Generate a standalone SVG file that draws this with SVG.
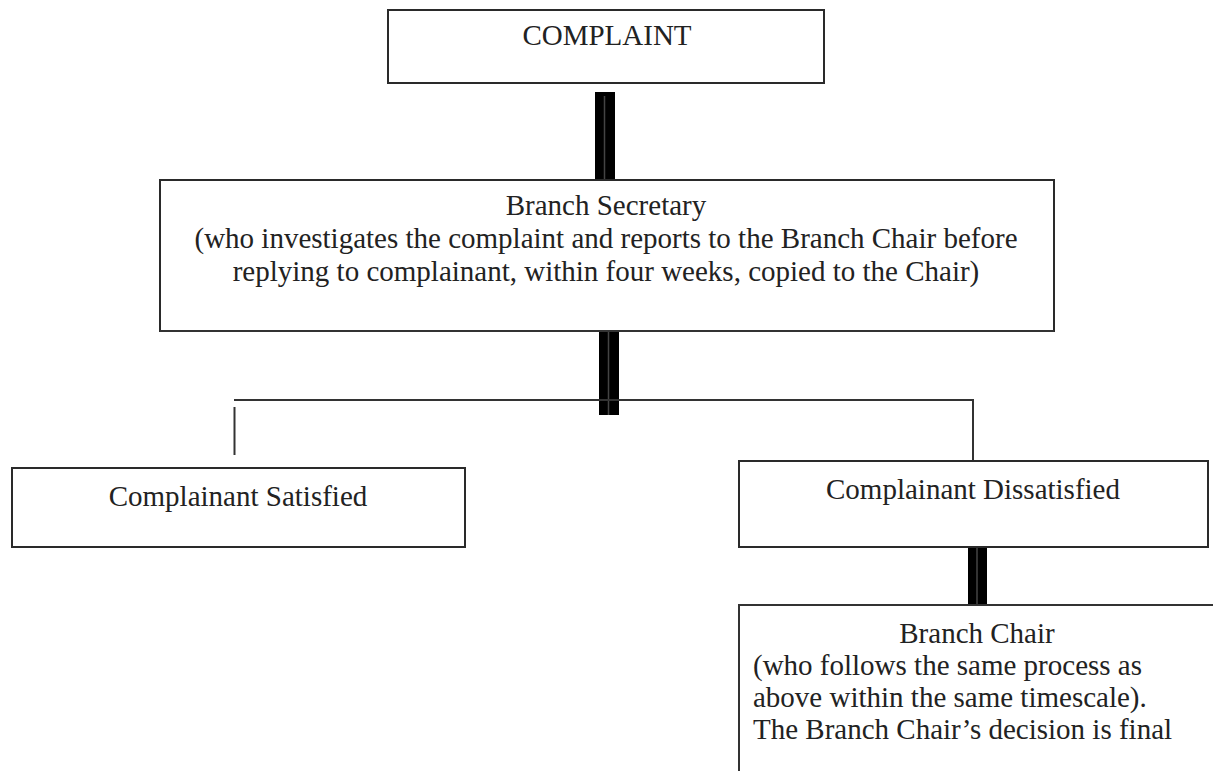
<svg xmlns="http://www.w3.org/2000/svg" width="1213" height="771" viewBox="0 0 1213 771">
<style>
.box{fill:#fff;stroke:#2a2a2a;stroke-width:2}
.ln{stroke:#333;stroke-width:2;fill:none}
.bar{fill:#000}
.core{stroke:#444;stroke-width:1.5}
text{font-family:"Liberation Serif","Times New Roman",serif;font-size:29px;fill:#222}
.c{text-anchor:middle}
</style>
<rect width="1213" height="771" fill="#fff"/>
<g id="connectors">
<rect class="bar" x="595" y="92" width="20" height="88"/>
<line class="core" x1="604.5" y1="96" x2="604.5" y2="180"/>
<rect class="bar" x="599" y="330" width="20" height="85"/>
<line class="core" x1="608.5" y1="332" x2="608.5" y2="415"/>
<line class="ln" x1="234" y1="400" x2="974" y2="400"/>
<line class="ln" x1="234.5" y1="407" x2="234.5" y2="455"/>
<line class="ln" x1="973" y1="400" x2="973" y2="461"/>
<rect class="bar" x="968" y="542" width="19" height="64"/>
<line class="core" x1="977" y1="545" x2="977" y2="606"/>
</g>
<g id="complaint">
<rect class="box" x="388" y="10" width="436" height="73"/>
<text class="c" x="607" y="45">COMPLAINT</text>
</g>
<g id="secretary">
<rect class="box" x="160" y="180" width="894" height="151" fill="none" style="fill:none"/>
<text class="c" x="606" y="215">Branch Secretary</text>
<text class="c" x="606" y="248">(who investigates the complaint and reports to the Branch Chair before</text>
<text class="c" x="606" y="281">replying to complainant, within four weeks, copied to the Chair)</text>
</g>
<line class="ln" x1="160" y1="331" x2="1054" y2="331"/>
<g id="satisfied">
<rect class="box" x="12" y="468" width="453" height="79"/>
<text class="c" x="238" y="506">Complainant Satisfied</text>
</g>
<g id="dissatisfied">
<rect class="box" x="739" y="461" width="469" height="86"/>
<text class="c" x="973" y="499">Complainant Dissatisfied</text>
</g>
<g id="chair">
<path class="ln" d="M739 771 V605 H1213"/>
<text class="c" x="977" y="643">Branch Chair</text>
<text x="753" y="675">(who follows the same process as</text>
<text x="753" y="707">above within the same timescale).</text>
<text x="753" y="739">The Branch Chair’s decision is final</text>
</g>
</svg>
